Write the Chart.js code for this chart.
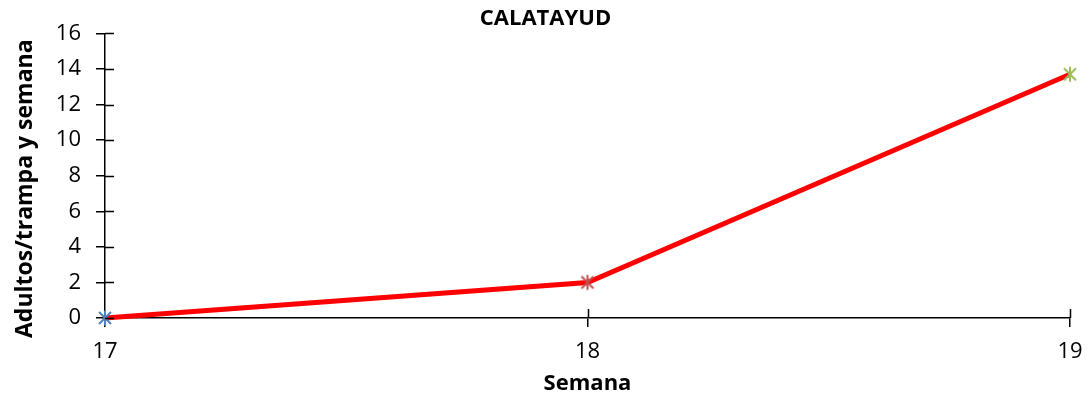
<!DOCTYPE html>
<html>
<head>
<meta charset="utf-8">
<script src="https://cdn.jsdelivr.net/npm/chart.js@4/dist/chart.umd.min.js"></script>
<style>
html,body{margin:0;padding:0;background:#fff;}
#wrap{width:1091px;height:403px;position:relative;}
</style>
</head>
<body>
<div id="wrap"><canvas id="c" width="1091" height="403"></canvas></div>
<script>
const categories = ['17', '18', '19'];
const values = [0, 2, 13.7];
const markerColors = ['#4F81BD', '#C0504D', '#9BBB59'];
const yTicks = [0, 2, 4, 6, 8, 10, 12, 14, 16];
const chartTitle = 'CALATAYUD';
const xTitle = 'Semana';
const yTitle = 'Adultos/trampa y semana';

function starMarker(color) {
  const s = 18, c = document.createElement('canvas');
  c.width = s; c.height = s;
  const g = c.getContext('2d');
  g.strokeStyle = color; g.lineWidth = 2;
  const m = s / 2, r = 7.5;
  g.beginPath();
  g.moveTo(m - r * 0.8, m - r * 0.8); g.lineTo(m + r * 0.8, m + r * 0.8);
  g.moveTo(m + r * 0.8, m - r * 0.8); g.lineTo(m - r * 0.8, m + r * 0.8);
  g.moveTo(m, m - r); g.lineTo(m, m + r);
  g.stroke();
  return c;
}

const extras = {
  id: 'extras',
  afterDraw(chart) {
    const ctx = chart.ctx, x = chart.scales.x, y = chart.scales.y;
    ctx.save();
    ctx.strokeStyle = '#000'; ctx.lineWidth = 1.5;
    ctx.beginPath();
    yTicks.forEach(v => {
      const py = Math.round(y.getPixelForValue(v)) + 0.5;
      ctx.moveTo(x.left, py); ctx.lineTo(x.left + 9, py);
    });
    categories.forEach((c, i) => {
      if (i === 0) return;
      const px = Math.round(x.getPixelForValue(i)) + 0.5;
      ctx.moveTo(px, y.bottom); ctx.lineTo(px, y.bottom - 9);
    });
    ctx.stroke();
    const a = chart.chartArea;
    ctx.translate(25, (a.top + a.bottom) / 2 + 13);
    ctx.rotate(-Math.PI / 2);
    ctx.fillStyle = '#000';
    ctx.font = 'bold 23px "Open Sans"';
    ctx.textAlign = 'center';
    ctx.textBaseline = 'middle';
    ctx.fillText(yTitle, 0, 0);
    ctx.restore();
  }
};

new Chart(document.getElementById('c'), {
  type: 'line',
  data: {
    labels: categories,
    datasets: [{
      data: values,
      borderColor: '#FF0000',
      borderWidth: 5,
      tension: 0,
      pointStyle: markerColors.map(starMarker),
      pointRadius: 9,
      pointHoverRadius: 9,
      clip: false
    }]
  },
  options: {
    responsive: false,
    animation: false,
    layout: { autoPadding: false, padding: { left: 21, right: 21, top: 0, bottom: 6 } },
    plugins: {
      legend: { display: false },
      tooltip: { enabled: false },
      title: {
        display: true,
        text: chartTitle,
        color: '#000',
        font: { family: 'Open Sans', size: 22, weight: 'bold' },
        padding: { top: 6, bottom: 1 }
      }
    },
    scales: {
      x: {
        type: 'category',
        offset: false,
        grid: { display: true, drawOnChartArea: false, drawTicks: true, tickLength: 9, color: '#000', lineWidth: 1.5 },
        border: { display: true, color: '#000', width: 1.5 },
        ticks: { color: '#000', font: { family: 'Open Sans', size: 22 }, padding: 12, maxRotation: 0 },
        title: { display: true, text: xTitle, color: '#000', font: { family: 'Open Sans', size: 22, weight: 'bold' }, padding: { top: 0, bottom: 0 } },
        afterFit(s) { s.height = 79; s.paddingLeft = 0; s.paddingRight = 0; }
      },
      y: {
        min: 0, max: 16,
        afterBuildTicks(s) { s.ticks = yTicks.map(v => ({ value: v })); },
        grid: { display: true, drawOnChartArea: false, drawTicks: true, tickLength: 9, color: '#000', lineWidth: 1.5 },
        border: { display: true, color: '#000', width: 1.5 },
        ticks: { color: '#000', font: { family: 'Open Sans', size: 22 }, padding: 15 },
        title: { display: false },
        afterFit(s) { s.width = 84; }
      }
    }
  },
  plugins: [extras]
});
</script>
</body>
</html>
